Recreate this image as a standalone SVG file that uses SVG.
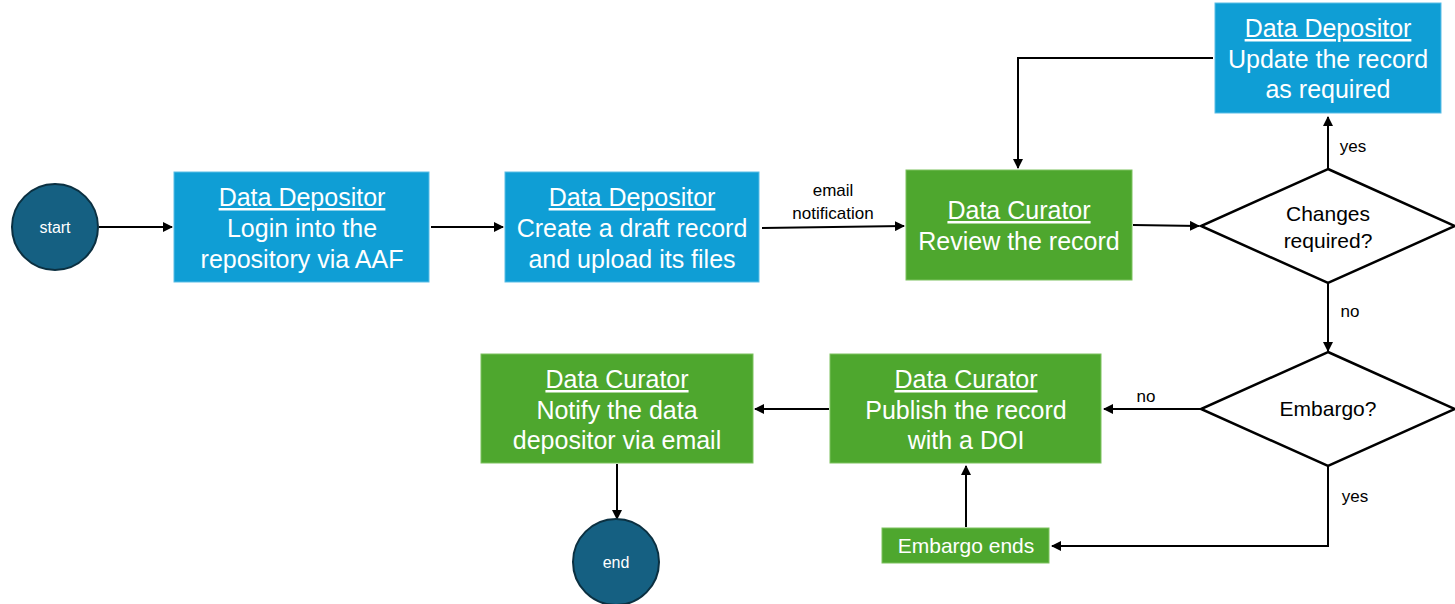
<svg xmlns="http://www.w3.org/2000/svg" width="1455" height="604" viewBox="0 0 1455 604">
<style>
.bg{fill:#ffffff}
.blue{fill:#0F9ED5;stroke:#5BBDE6;stroke-width:1}
.green{fill:#4EA72E;stroke:#7CC25F;stroke-width:1}
.circ{fill:#156082;stroke:#0B3041;stroke-width:2}
.dia{fill:#ffffff;stroke:#000000;stroke-width:2.5}
.t{font-family:"Liberation Sans",Arial,sans-serif;font-size:25px;fill:#ffffff;text-anchor:middle}
.u{text-decoration:underline}
.d{font-family:"Liberation Sans",Arial,sans-serif;font-size:21px;fill:#000000;text-anchor:middle}
.l{font-family:"Liberation Sans",Arial,sans-serif;font-size:17px;fill:#000000;text-anchor:middle}
.s{font-family:"Liberation Sans",Arial,sans-serif;font-size:16px;fill:#ffffff;text-anchor:middle}
.e{font-family:"Liberation Sans",Arial,sans-serif;font-size:21px;fill:#ffffff;text-anchor:middle}
.c{fill:none;stroke:#000000;stroke-width:2;marker-end:url(#ah)}
</style>
<defs>
<marker id="ah" viewBox="0 0 10 10" refX="9" refY="5" markerWidth="5" markerHeight="5" orient="auto" markerUnits="strokeWidth">
<path d="M0,0 L10,5 L0,10 z" fill="#000000"/>
</marker>
</defs>
<rect class="bg" x="0" y="0" width="1455" height="604"/>

<g id="connectors">
<path class="c" d="M99,227 L172,227"/>
<path class="c" d="M431,227 L503,227"/>
<path class="c" d="M762,228 L904,226"/>
<path class="c" d="M1133,225 L1199,226"/>
<path class="c" d="M1328,169 L1328,117"/>
<path class="c" d="M1213,58 L1018,58 L1018,168"/>
<path class="c" d="M1328,283 L1328,351"/>
<path class="c" d="M1201,409 L1104,409"/>
<path class="c" d="M1328,466 L1328,546 L1052,546"/>
<path class="c" d="M966,527 L966,466"/>
<path class="c" d="M829,409 L755,409"/>
<path class="c" d="M617,464 L617,519"/>
<text class="l" x="833" y="196">email</text>
<text class="l" x="833" y="219">notification</text>
<text class="l" x="1353" y="152">yes</text>
<text class="l" x="1350" y="317">no</text>
<text class="l" x="1146" y="402">no</text>
<text class="l" x="1355" y="502">yes</text>
</g>

<g id="start">
<circle class="circ" cx="55" cy="227" r="43"/>
<text class="s" x="55" y="233">start</text>
</g>

<g id="login">
<rect class="blue" x="174" y="172" width="255" height="110"/>
<text class="t u" x="302" y="206">Data Depositor</text>
<text class="t" x="302" y="237">Login into the</text>
<text class="t" x="302" y="268">repository via AAF</text>
</g>

<g id="draft">
<rect class="blue" x="505" y="172" width="254" height="110"/>
<text class="t u" x="632" y="206">Data Depositor</text>
<text class="t" x="632" y="237">Create a draft record</text>
<text class="t" x="632" y="268">and upload its files</text>
</g>

<g id="review">
<rect class="green" x="906" y="170" width="226" height="110"/>
<text class="t u" x="1019" y="219">Data Curator</text>
<text class="t" x="1019" y="250">Review the record</text>
</g>

<g id="changes">
<polygon class="dia" points="1328,169 1455,226 1328,283 1201,226"/>
<text class="d" x="1328" y="221">Changes</text>
<text class="d" x="1328" y="248">required?</text>
</g>

<g id="update">
<rect class="blue" x="1215" y="3" width="226" height="110"/>
<text class="t u" x="1328" y="37">Data Depositor</text>
<text class="t" x="1328" y="68">Update the record</text>
<text class="t" x="1328" y="98">as required</text>
</g>

<g id="embargo">
<polygon class="dia" points="1328,352 1455,409 1328,466 1201,409"/>
<text class="d" x="1328" y="416">Embargo?</text>
</g>

<g id="publish">
<rect class="green" x="830" y="354" width="271" height="109"/>
<text class="t u" x="966" y="388">Data Curator</text>
<text class="t" x="966" y="419">Publish the record</text>
<text class="t" x="966" y="449">with a DOI</text>
</g>

<g id="embargo-ends">
<rect class="green" x="882" y="528" width="167" height="35"/>
<text class="e" x="966" y="553">Embargo ends</text>
</g>

<g id="notify">
<rect class="green" x="481" y="354" width="272" height="109"/>
<text class="t u" x="617" y="388">Data Curator</text>
<text class="t" x="617" y="419">Notify the data</text>
<text class="t" x="617" y="449">depositor via email</text>
</g>

<g id="end">
<circle class="circ" cx="616" cy="562" r="43"/>
<text class="s" x="616" y="568">end</text>
</g>
</svg>
